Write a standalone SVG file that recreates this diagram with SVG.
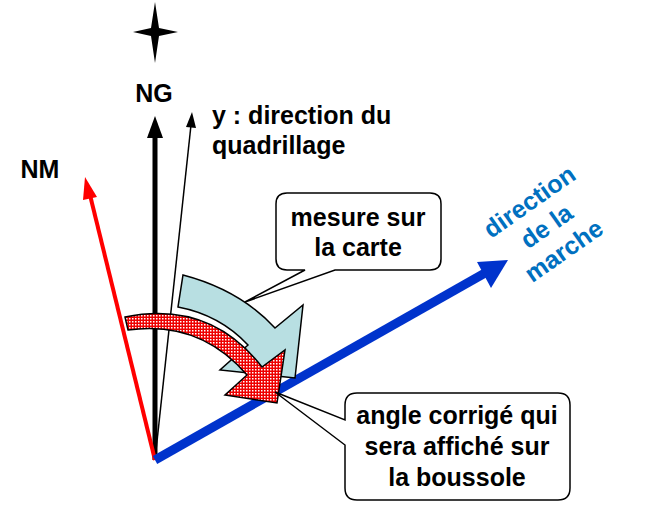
<svg xmlns="http://www.w3.org/2000/svg" width="661" height="507" viewBox="0 0 661 507">
<style>
text{font-family:"Liberation Sans",Arial,sans-serif;font-weight:bold;font-size:25px}
.c{text-anchor:middle}
.box{fill:#fff;stroke:#000;stroke-width:1.5}
</style>
<defs>
<pattern id="chk" width="3" height="3" patternUnits="userSpaceOnUse">
<rect width="3" height="3" fill="#e00"/><rect width="1.5" height="1.5" fill="#fff"/>
</pattern>
</defs>
<rect width="661" height="507" fill="#fff"/>
<g id="star"><path d="M155,2 L159,28 L178,32 L159,36 L155,63 L151,36 L133,32 L151,28 Z" fill="#000"/></g>
<g id="connectors">
<line x1="155" y1="460" x2="155" y2="135" stroke="#000" stroke-width="5"/>
<path d="M155,116 L163,138 L147,138 Z" fill="#000"/>
<line x1="155" y1="460" x2="191" y2="125" stroke="#000" stroke-width="1.5"/>
<path d="M192,112 L196,128 L186,127 Z" fill="#000"/>
<line x1="155" y1="460" x2="90" y2="195" stroke="#f00" stroke-width="4"/>
<path d="M85,177 L97,197 L83,200 Z" fill="#f00"/>
<line x1="155" y1="460" x2="485" y2="273" stroke="#0033cc" stroke-width="9"/>
<path d="M508,260 L477,262 L491,288 Z" fill="#0033cc"/>
</g>
<g id="blue-arc"><path d="M183,275 Q240,290 275,328 L303,305 L295,378 L220,370 L248,345 Q220,315 178,307 Z" fill="#b8dfe2" stroke="#000" stroke-width="1.5"/></g>
<g id="red-arc"><path d="M125,317 Q210,300 262,367 L285,350 L277,403 L225,395 L247,375 Q200,320 128,330 Z" fill="url(#chk)" stroke="#000" stroke-width="1.5"/></g>
<g id="callout1">
<path d="M287,193 H430 Q441,193 441,204 V259 Q441,270 430,270 H335 L245,302 L305,270 H287 Q276,270 276,259 V204 Q276,193 287,193 Z" class="box"/>
<text x="358" y="226" class="c" font-size="22">mesure sur</text>
<text x="358" y="256" class="c" font-size="22">la carte</text>
</g>
<g id="callout2">
<path d="M357,393 H558 Q570,393 570,405 V488 Q570,500 558,500 H357 Q345,500 345,488 V445 L275,392 L345,420 V405 Q345,393 357,393 Z" class="box"/>
<text x="457" y="424" class="c" font-size="22">angle corrigé qui</text>
<text x="457" y="455" class="c" font-size="22">sera affiché sur</text>
<text x="457" y="486" class="c" font-size="22">la boussole</text>
</g>
<g id="labels">
<text x="154" y="102" class="c" font-size="27">NG</text>
<text x="40" y="178" class="c" font-size="27">NM</text>
<text x="212" y="124" font-size="23">y : direction du</text>
<text x="212" y="154" font-size="23">quadrillage</text>
<g transform="rotate(-35 552 234)">
<text x="552" y="203" class="c" fill="#0070c0" font-size="25">direction</text>
<text x="552" y="233" class="c" fill="#0070c0" font-size="25">de la</text>
<text x="552" y="263" class="c" fill="#0070c0" font-size="25">marche</text>
</g>
</g>
</svg>
